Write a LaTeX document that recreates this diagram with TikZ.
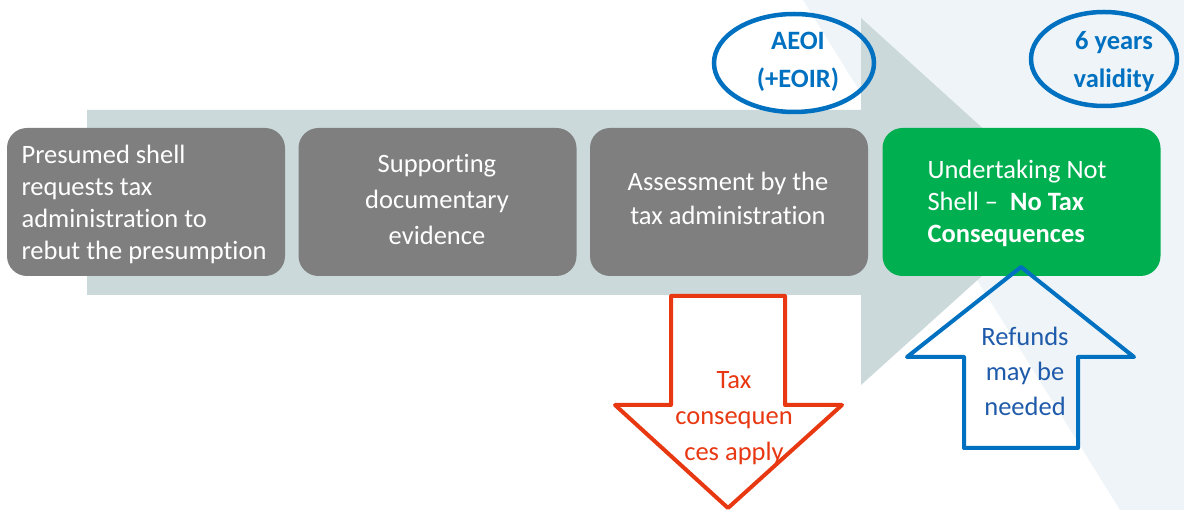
\documentclass[tikz,border=0pt]{standalone}
\usepackage{fontspec}
\setmainfont{Carlito}[Ligatures={NoCommon}]
\usetikzlibrary{shapes.geometric}
\definecolor{tintbg}{RGB}{238,244,247}
\definecolor{flowgray}{RGB}{203,217,219}
\definecolor{stepgray}{RGB}{127,127,127}
\definecolor{stepgreen}{RGB}{0,176,80}
\definecolor{ringblue}{RGB}{0,112,192}
\definecolor{refundblue}{RGB}{31,91,170}
\definecolor{taxred}{RGB}{232,56,18}
\begin{document}
\begin{tikzpicture}[x=1pt,y=-1pt,
  stepbox/.style={rounded corners=20pt, minimum width=278pt, minimum height=148pt, inner sep=0pt},
  steptext/.style={text=white, font=\fontsize{26.5}{32}\selectfont, inner sep=0pt},
  ring/.style={draw=ringblue, line width=4.5pt, ellipse, inner sep=0pt},
  ringtext/.style={text=ringblue, font=\fontsize{26.5}{38}\selectfont\bfseries, align=center, inner sep=0pt},
  outline/.style={line width=4pt, line join=round}
]
\useasboundingbox (0,0) rectangle (1184,510);

% tinted backdrop on the right
\fill[tintbg] (803,0) -- (1184,0) -- (1184,510) -- (1120,510) -- cycle;

% broad process arrow behind the steps
\fill[flowgray] (87,110) -- (861,110) -- (861,18) -- (1064,202) -- (861,385)
  -- (861,295) -- (87,295) -- cycle;

% the four steps
\node[stepbox, fill=stepgray] (s1) at (146,202) {};
\node[stepbox, fill=stepgray] (s2) at (437.5,202) {};
\node[stepbox, fill=stepgray] (s3) at (729,202) {};
\node[stepbox, fill=stepgreen] (s4) at (1021.5,202) {};

\node[steptext, align=left] (t1) at (144,204)
  {Presumed shell\\requests tax\\administration to\\rebut the presumption};
\node[steptext, align=center, font=\fontsize{26.5}{36}\selectfont] (t2) at (437,199.5)
  {Supporting\\documentary\\evidence};
\node[steptext, align=center, font=\fontsize{26.5}{34}\selectfont] (t3) at (728,198)
  {Assessment by the\\tax administration};
\node[steptext, align=left] (t4) at (1017,203)
  {Undertaking Not\\Shell --\ \ \textbf{No Tax}\\\textbf{Consequences}};

% exchange of information and validity marks
\node[ring, minimum width=160pt, minimum height=98pt] (aeoi) at (794,63) {};
\node[ringtext] (aeoiT) at (798,62) {AEOI\\(+EOIR)};
\node[ring, minimum width=146pt, minimum height=94pt] (valid) at (1104,59) {};
\node[ringtext] (validT) at (1114,62) {6 years\\validity};

% outcome of a negative assessment
\draw[outline, draw=taxred, fill=white] (671,296) -- (785,296) -- (785,405) -- (842,405)
  -- (728,508) -- (615,405) -- (671,405) -- cycle;
\node[text=taxred, font=\fontsize{26.5}{36}\selectfont, align=center, inner sep=0pt]
  (taxT) at (734,418) {Tax\\consequen\\ces apply};

% outcome of a positive assessment
\draw[outline, draw=ringblue] (1021,267) -- (1134,357) -- (1078,357) -- (1078,448)
  -- (964,448) -- (964,357) -- (907,357) -- cycle;
\node[text=refundblue, font=\fontsize{26.5}{35}\selectfont, align=center, inner sep=0pt]
  (refT) at (1025,371) {Refunds\\may be\\needed};
\end{tikzpicture}
\end{document}
